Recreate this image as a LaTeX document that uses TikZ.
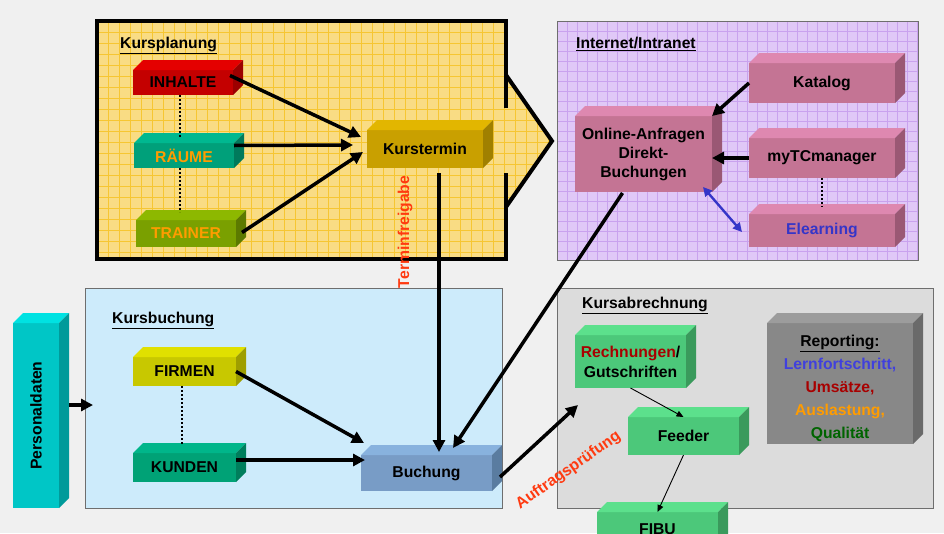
\documentclass[tikz,border=0pt]{standalone}
\usepackage{fontspec}
\setmainfont{Liberation Sans}
\usepackage{graphicx}
\usepackage{tikz}
\usetikzlibrary{arrows.meta}

\definecolor{bg}{HTML}{F0F0F0}
\definecolor{planfill}{HTML}{F9DC84}
\definecolor{plangrid}{HTML}{F6C632}
\definecolor{netfill}{HTML}{E0C8F7}
\definecolor{netgrid}{HTML}{C9A2EE}
\definecolor{bookfill}{HTML}{CDEBFB}
\definecolor{billfill}{HTML}{DCDCDC}
\definecolor{paneledge}{HTML}{6E6E6E}
\definecolor{inhfront}{HTML}{C40000}
\definecolor{inhtop}{HTML}{E40000}
\definecolor{inhside}{HTML}{9C0000}
\definecolor{raefront}{HTML}{00A07A}
\definecolor{raetop}{HTML}{00B890}
\definecolor{raeside}{HTML}{007A5C}
\definecolor{trafront}{HTML}{7AA000}
\definecolor{tratop}{HTML}{8DB800}
\definecolor{traside}{HTML}{5C7A00}
\definecolor{terfront}{HTML}{C9A000}
\definecolor{tertop}{HTML}{E2B600}
\definecolor{terside}{HTML}{A08000}
\definecolor{pinkfront}{HTML}{C47494}
\definecolor{pinktop}{HTML}{DE88B0}
\definecolor{pinkside}{HTML}{9A5874}
\definecolor{cyanfront}{HTML}{00C6C6}
\definecolor{cyantop}{HTML}{00E2E2}
\definecolor{cyanside}{HTML}{009A9A}
\definecolor{firfront}{HTML}{C8C800}
\definecolor{firtop}{HTML}{E0E000}
\definecolor{firside}{HTML}{9E9E00}
\definecolor{kunfront}{HTML}{00A276}
\definecolor{kuntop}{HTML}{00B68A}
\definecolor{kunside}{HTML}{007E5C}
\definecolor{buchfront}{HTML}{789CC6}
\definecolor{buchtop}{HTML}{88B2DE}
\definecolor{buchside}{HTML}{5A7CA0}
\definecolor{greenfront}{HTML}{4CC87A}
\definecolor{greentop}{HTML}{5CE08C}
\definecolor{greenside}{HTML}{3A9A5C}
\definecolor{repfront}{HTML}{888888}
\definecolor{reptop}{HTML}{9C9C9C}
\definecolor{repside}{HTML}{6A6A6A}
\definecolor{orangetext}{HTML}{FF9C00}
\definecolor{labelred}{HTML}{FF3A10}
\definecolor{elearnblue}{HTML}{3535C8}
\definecolor{repblue}{HTML}{4040DD}
\definecolor{darkred}{HTML}{A80000}
\definecolor{repgreen}{HTML}{006400}

\tikzset{
    blk/.style = {rectangle, inner sep=0pt, outer sep=0pt, align=center},
    link/.style = {line width=3.5pt, -{Triangle[length=12pt, width=12pt]}},
    thin-link/.style = {line width=0.9pt, -{Triangle[length=7pt, width=6pt]}},
    dot-link/.style = {line width=2pt, dash pattern=on 2pt off 2pt},
    panel/.style = {draw=paneledge, line width=0.8pt},
    panel-title/.style = {anchor=base west, inner sep=0pt},
    grid-line/.style = {line width=0.6pt},
    flow-label/.style = {text=labelred, inner sep=0pt},
}

% top and side face of a block node
\newcommand{\blkfaces}[3]{%
    \fill[#2] (#1.north west) -- ++(10,-10) -- ([shift={(10,-10)}]#1.north east) -- (#1.north east) -- cycle;
    \fill[#3] (#1.north east) -- ++(10,-10) -- ([shift={(10,-10)}]#1.south east) -- (#1.south east) -- cycle;
}

\begin{document}
\begin{tikzpicture}[x=1pt, y=-1pt, font=\fontsize{15.7}{18}\selectfont\bfseries]
\useasboundingbox (0,0) rectangle (944,533);
\clip (0,0) rectangle (944,533);
\fill[bg] (0,0) rectangle (944,533);

% Kursplanung panel with arrow
\begin{scope}
    \clip (97,21) rectangle (506,259) (506,75) -- (552,141) -- (506,207) -- cycle;
    \fill[planfill] (90,15) rectangle (560,265);
    \foreach \gx in {97,108,...,552} \draw[grid-line, plangrid] (\gx,21) -- (\gx,259);
    \foreach \gy in {21,32,...,259} \draw[grid-line, plangrid] (97,\gy) -- (552,\gy);
\end{scope}
\draw[line width=4pt] (506,108) -- (506,21) -- (97,21) -- (97,259) -- (506,259) -- (506,173);
\draw[line width=4pt, line join=miter] (506,75) -- (552,141) -- (506,207);

% Internet/Intranet panel
\begin{scope}
    \clip (557,21) rectangle (918,260);
    \fill[netfill] (557,21) rectangle (918,260);
    \foreach \gx in {557,567,...,918} \draw[grid-line, netgrid] (\gx,21) -- (\gx,260);
    \foreach \gy in {21,31,...,260} \draw[grid-line, netgrid] (557,\gy) -- (918,\gy);
\end{scope}
\draw[panel] (557,21) rectangle (918,260);

% Kursbuchung and Kursabrechnung panels
\filldraw[panel, fill=bookfill] (85,288) rectangle (502,508);
\filldraw[panel, fill=billfill] (557,288) rectangle (933,508);

\node[panel-title] (t-plan) at (120,48) {\underline{Kursplanung}};
\node[panel-title] (t-net) at (576,48) {\underline{Internet/Intranet}};
\node[panel-title] (t-book) at (112,323) {\underline{Kursbuchung}};
\node[panel-title] (t-bill) at (582,308) {\underline{Kursabrechnung}};

% Kursplanung blocks
\node[blk, fill=inhfront, minimum width=100pt, minimum height=25pt] (inhalte) at (183,82.5) {INHALTE};
\blkfaces{inhalte}{inhtop}{inhside}
\node[blk, fill=raefront, text=orangetext, minimum width=100pt, minimum height=25pt] (raeume) at (184,155.5) {RÄUME};
\blkfaces{raeume}{raetop}{raeside}
\node[blk, fill=trafront, text=orangetext, minimum width=100pt, minimum height=27pt] (trainer) at (186,233.5) {TRAINER};
\blkfaces{trainer}{tratop}{traside}
\node[blk, fill=terfront, minimum width=116pt, minimum height=38pt] (kurstermin) at (425,149) {Kurstermin};
\blkfaces{kurstermin}{tertop}{terside}

% Internet/Intranet blocks
\node[blk, fill=pinkfront, minimum width=146pt, minimum height=40pt] (katalog) at (822,83) {Katalog};
\blkfaces{katalog}{pinktop}{pinkside}
\node[blk, fill=pinkfront, minimum width=137pt, minimum height=76pt, font=\fontsize{15.7}{19}\selectfont\bfseries] (online) at (643.5,154) {Online-Anfragen\\Direkt-\\Buchungen};
\blkfaces{online}{pinktop}{pinkside}
\node[blk, fill=pinkfront, minimum width=146pt, minimum height=40pt] (mytc) at (822,158) {myTCmanager};
\blkfaces{mytc}{pinktop}{pinkside}
\node[blk, fill=pinkfront, text=elearnblue, minimum width=146pt, minimum height=33pt] (elearning) at (822,230.5) {Elearning};
\blkfaces{elearning}{pinktop}{pinkside}

% Kursbuchung blocks
\node[blk, fill=cyanfront, minimum width=46pt, minimum height=185pt] (personal) at (36,415.5) {\rotatebox{90}{Personaldaten}};
\blkfaces{personal}{cyantop}{cyanside}
\node[blk, fill=firfront, minimum width=103pt, minimum height=29pt] (firmen) at (184.5,371.5) {FIRMEN};
\blkfaces{firmen}{firtop}{firside}
\node[blk, fill=kunfront, minimum width=103pt, minimum height=29pt] (kunden) at (184.5,467.5) {KUNDEN};
\blkfaces{kunden}{kuntop}{kunside}
\node[blk, fill=buchfront, minimum width=131pt, minimum height=36pt] (buchung) at (426.5,473) {Buchung};
\blkfaces{buchung}{buchtop}{buchside}

% Kursabrechnung blocks
\node[blk, fill=greenfront, minimum width=111pt, minimum height=53pt, font=\fontsize{15.7}{20}\selectfont\bfseries] (rechnungen) at (630.5,361.5) {\textcolor{darkred}{Rechnungen}/\\Gutschriften};
\blkfaces{rechnungen}{greentop}{greenside}
\node[blk, fill=greenfront, minimum width=111pt, minimum height=38pt] (feeder) at (683.5,436) {Feeder};
\blkfaces{feeder}{greentop}{greenside}
\node[blk, fill=greenfront, minimum width=121pt, minimum height=34pt] (fibu) at (657.5,529) {FIBU};
\blkfaces{fibu}{greentop}{greenside}
\node[blk, fill=repfront, minimum width=146pt, minimum height=121pt, font=\fontsize{15.7}{23}\selectfont\bfseries] (reporting) at (840,383.5) {\rule{0pt}{22pt}\underline{Reporting:}\\\textcolor{repblue}{Lernfortschritt,}\\\textcolor{darkred}{Umsätze,}\\\textcolor{orangetext}{Auslastung,}\\\textcolor{repgreen}{Qualität}};
\blkfaces{reporting}{reptop}{repside}

% dotted links
\draw[dot-link] ([xshift=-3pt]inhalte.south) -- ([xshift=-4pt, yshift=6pt]raeume.north);
\draw[dot-link] ([xshift=-4pt]raeume.south) -- ([xshift=-6pt, yshift=8pt]trainer.north);
\draw[dot-link] ([xshift=-2.5pt]firmen.south) -- ([xshift=-2.5pt, yshift=9pt]kunden.north);
\draw[dot-link] (mytc.south) -- ([yshift=7pt]elearning.north);

% arrows
\draw[link] ([xshift=-3pt, yshift=7pt]inhalte.east) -- ([xshift=-6pt, yshift=12pt]kurstermin.west);
\draw[link] ([yshift=10pt]raeume.east) -- ([xshift=-14pt, yshift=4pt]kurstermin.west);
\draw[link] ([xshift=6pt, yshift=1pt]trainer.east) -- ([xshift=-4pt, yshift=-3pt]kurstermin.west);
\draw[link] ([xshift=14pt, yshift=-5pt]kurstermin.south) -- ([xshift=12.5pt, yshift=3pt]buchung.north);
\node[flow-label, rotate=90] (terminfreigabe) at (405,232) {Terminfreigabe};

\draw[link] (katalog.west) -- (online.north east);
\draw[link] (mytc.west) -- ([yshift=-4pt]online.east);
\draw[line width=2.4pt, elearnblue, {Triangle[length=9pt, width=9pt]}-{Triangle[length=9pt, width=9pt]}] ([xshift=-9pt, yshift=5pt]online.south east) -- ([xshift=-7pt, yshift=-1.5pt]elearning.west);
\draw[link] ([xshift=-21pt, yshift=-1pt]online.south) -- ([xshift=26.5pt, yshift=7pt]buchung.north);

\coordinate (kb-in) at (93,405);
\draw[link] ([xshift=10pt, yshift=10.5pt]personal.east) -- (kb-in);
\draw[link] (firmen.east) -- ([xshift=3pt, yshift=12pt]buchung.north west);
\draw[link] ([yshift=7.5pt]kunden.east) -- ([xshift=4pt, yshift=13pt]buchung.west);

\coordinate (ka-in) at (578,405);
\draw[link] ([xshift=8pt, yshift=-4pt]buchung.east) -- (ka-in);
\node[flow-label, rotate=35] (auftragspruefung) at (568.5,470.5) {Auftragsprüfung};

\draw[thin-link] (rechnungen.south) -- (feeder.north);
\draw[thin-link] (feeder.south) -- (fibu.north);
\end{tikzpicture}
\end{document}
